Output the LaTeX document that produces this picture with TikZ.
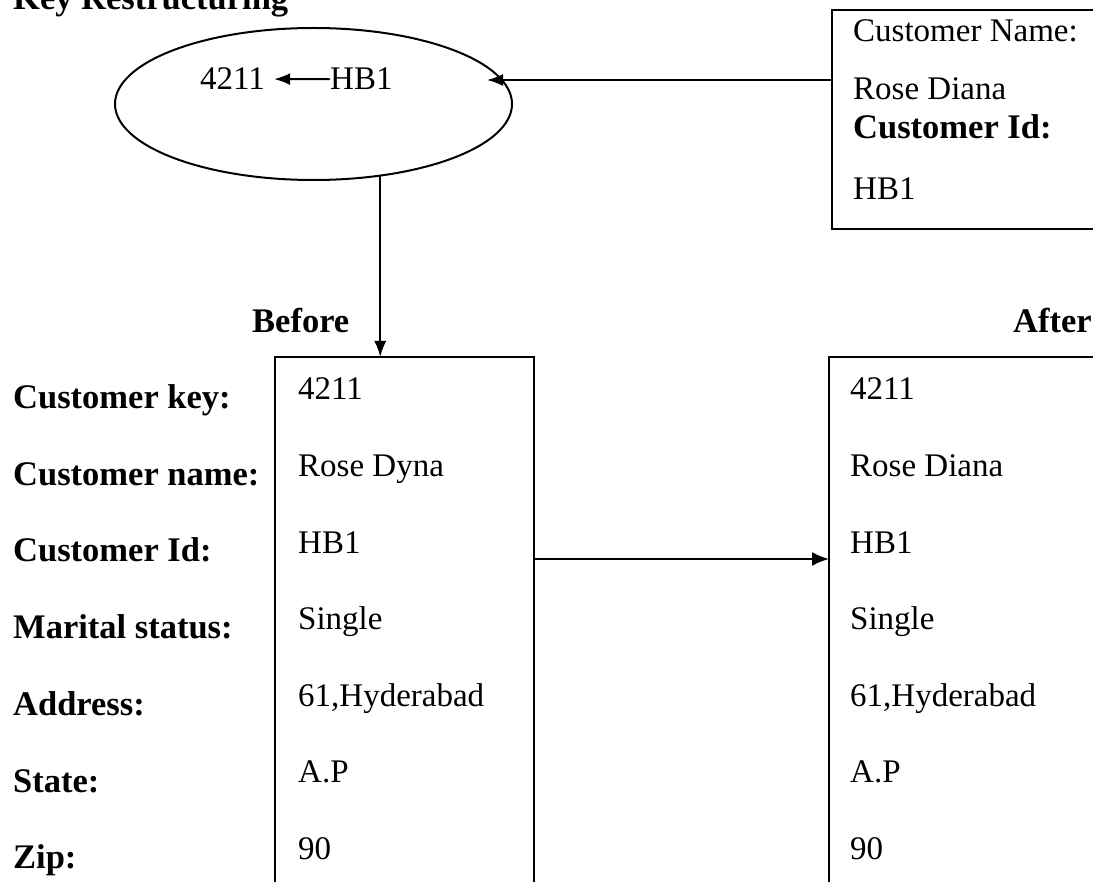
\documentclass[tikz,border=0pt]{standalone}
\usepackage{fontspec}
\setmainfont{Liberation Serif}
\usetikzlibrary{shapes.geometric,arrows.meta}

\newcommand\valfont{\fontsize{33}{40}\selectfont}
\newcommand\lblfont{\fontsize{34.5}{40}\selectfont\bfseries}

\tikzset{
  val/.style={font=\valfont, anchor=base west, inner sep=0pt},
  lbl/.style={font=\lblfont, anchor=base west, inner sep=0pt},
  recbox/.style={draw, line width=2.2pt, inner sep=0pt, outer sep=0pt, anchor=north west},
  arr/.style={line width=1.8pt, -{Latex[length=16pt,width=12pt]}},
  bigarr/.style={line width=1.9pt, -{Latex[length=17pt,width=14pt]}},
}

\begin{document}
\begin{tikzpicture}[x=1pt,y=-1pt]
  \useasboundingbox (0,0) rectangle (1093,882);
  \clip (0,0) rectangle (1093,882);

  % heading
  \node[lbl] (title) at (13,10) {Key Restructuring};

  % key mapping ellipse
  \node[draw, ellipse, line width=2pt, minimum width=397pt, minimum height=152pt,
        inner sep=0pt, outer sep=0pt] (ell) at (313.5,104) {};
  \node[val] (oldkey) at (200,90) {4211};
  \node[val] (newid) at (330,90) {HB1};
  \draw[arr, shorten >=9pt] (newid.west) -- (oldkey.east);

  % incoming customer record
  \node[recbox, minimum width=320pt, minimum height=219pt] (cust) at (832,10) {};
  \node[val] (cname) at (853,42) {Customer Name:};
  \node[val] (cnamev) at (853,100) {Rose Diana};
  \node[lbl] (cid) at (853,139) {Customer Id:};
  \node[val] (cidv) at (853,200) {HB1};
  \coordinate (intip) at (487,80);
  \draw[arr] (cust.west |- intip) -- (intip);

  % before / after records
  \node[lbl] (beforelbl) at (252,333) {Before};
  \node[lbl] (afterlbl) at (1013,333) {After};
  \node[recbox, minimum width=259pt, minimum height=600pt] (before) at (275,357) {};
  \node[recbox, minimum width=320pt, minimum height=600pt] (after) at (829,357) {};

  \draw[arr] (ell.-47) -- (ell.-47 |- before.north);

  % field names
  \foreach \t [count=\i from 0] in {Customer key:, Customer name:, Customer Id:,
      Marital status:, Address:, State:, Zip:}
    \node[lbl] (f\i) at (13,{408.5+76.7*\i}) {\t};

  % field values
  \foreach \t [count=\i from 0] in {4211, Rose Dyna, HB1, Single, {61,Hyderabad}, A.P, 90}
    \node[val] (b\i) at (298,{400+76.5*\i}) {\t};
  \foreach \t [count=\i from 0] in {4211, Rose Diana, HB1, Single, {61,Hyderabad}, A.P, 90}
    \node[val] (a\i) at (850,{400+76.5*\i}) {\t};

  \coordinate (link) at (0,559);
  \draw[bigarr] (before.east |- link) -- (after.west |- link);
\end{tikzpicture}
\end{document}
